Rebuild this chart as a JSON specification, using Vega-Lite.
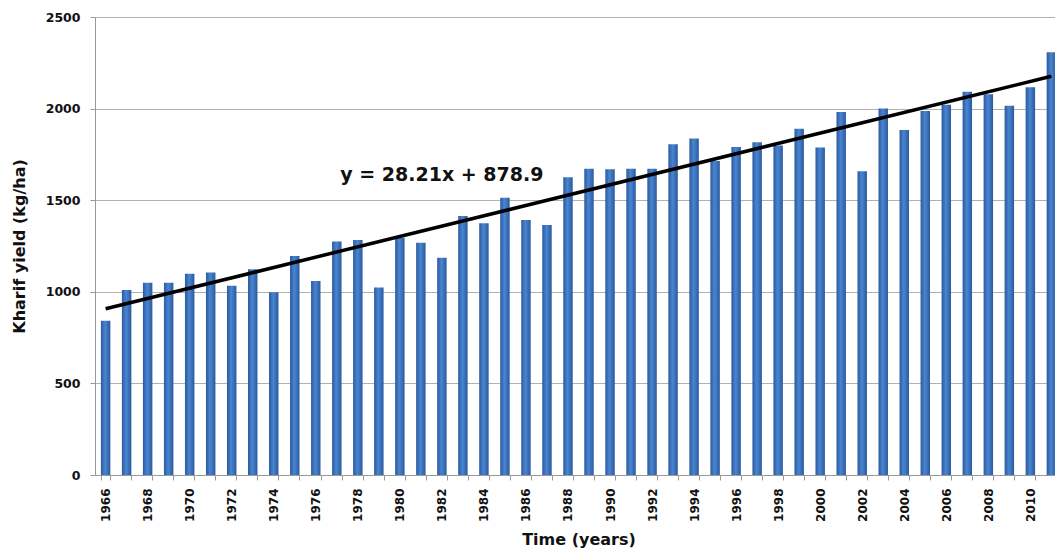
{
  "$schema": "https://vega.github.io/schema/vega-lite/v6.json",
  "autosize": {"type": "none"},
  "padding": {"left": 95, "top": 17, "right": 0, "bottom": 76},
  "width": 967,
  "height": 458,
  "background": "white",
  "config": {"view": {"stroke": null}, "font": "DejaVu Sans"},
  "datasets": {
    "yield": [
      {"year": "1966", "value": 842}, {"year": "1967", "value": 1010}, {"year": "1968", "value": 1050},
      {"year": "1969", "value": 1050}, {"year": "1970", "value": 1099}, {"year": "1971", "value": 1106},
      {"year": "1972", "value": 1033}, {"year": "1973", "value": 1123}, {"year": "1974", "value": 997},
      {"year": "1975", "value": 1195}, {"year": "1976", "value": 1059}, {"year": "1977", "value": 1274},
      {"year": "1978", "value": 1283}, {"year": "1979", "value": 1024}, {"year": "1980", "value": 1295},
      {"year": "1981", "value": 1268}, {"year": "1982", "value": 1186}, {"year": "1983", "value": 1414},
      {"year": "1984", "value": 1374}, {"year": "1985", "value": 1514}, {"year": "1986", "value": 1392},
      {"year": "1987", "value": 1365}, {"year": "1988", "value": 1625}, {"year": "1989", "value": 1672},
      {"year": "1990", "value": 1669}, {"year": "1991", "value": 1672}, {"year": "1992", "value": 1672},
      {"year": "1993", "value": 1805}, {"year": "1994", "value": 1837}, {"year": "1995", "value": 1714},
      {"year": "1996", "value": 1790}, {"year": "1997", "value": 1816}, {"year": "1998", "value": 1798},
      {"year": "1999", "value": 1890}, {"year": "2000", "value": 1787}, {"year": "2001", "value": 1981},
      {"year": "2002", "value": 1658}, {"year": "2003", "value": 2000}, {"year": "2004", "value": 1883},
      {"year": "2005", "value": 1987}, {"year": "2006", "value": 2021}, {"year": "2007", "value": 2092},
      {"year": "2008", "value": 2078}, {"year": "2009", "value": 2016}, {"year": "2010", "value": 2116},
      {"year": "2011", "value": 2307}
    ],
    "trend": [
      {"year": "1966", "value": 907.1},
      {"year": "2011", "value": 2176.6}
    ],
    "label": [
      {"year": "1982", "value": 1640, "text": "y = 28.21x + 878.9"}
    ]
  },
  "layer": [
    {
      "data": {"name": "yield"},
      "mark": {
        "type": "bar",
        "color": {
          "gradient": "linear", "x1": 0, "x2": 1, "y1": 0, "y2": 0,
          "stops": [
            {"offset": 0, "color": "#2a5a9e"},
            {"offset": 0.45, "color": "#4a85d0"},
            {"offset": 1, "color": "#2a5a9e"}
          ]
        }
      },
      "encoding": {
        "x": {
          "field": "year", "type": "ordinal",
          "scale": {"paddingInner": 0.55, "paddingOuter": 0.28},
          "axis": {
            "title": "Time (years)",
            "titleFont": "DejaVu Sans", "titleFontSize": 16, "titleFontWeight": "bold", "titleColor": "#111",
            "titlePadding": 10,
            "labelAngle": -90, "labelAlign": "right", "labelBaseline": "middle",
            "labelFont": "DejaVu Sans", "labelFontSize": 12, "labelFontWeight": "bold", "labelColor": "#111",
            "labelPadding": 8,
            "labelExpr": "parseInt(datum.value) % 2 == 0 ? datum.value : ''",
            "tickBand": "extent", "tickSize": 5, "tickColor": "#999",
            "domainColor": "#999", "grid": false
          }
        },
        "y": {
          "field": "value", "type": "quantitative",
          "scale": {"domain": [0, 2500], "nice": false},
          "axis": {
            "title": "Kharif yield (kg/ha)",
            "titleFont": "DejaVu Sans", "titleFontSize": 16, "titleFontWeight": "bold", "titleColor": "#111",
            "titlePadding": 18,
            "values": [0, 500, 1000, 1500, 2000, 2500],
            "format": "d",
            "labelFont": "DejaVu Sans", "labelFontSize": 12.5, "labelFontWeight": "bold", "labelColor": "#111",
            "labelPadding": 10,
            "tickSize": 5, "tickColor": "#999",
            "domainColor": "#999",
            "gridColor": "#b0b0b0", "gridWidth": 1
          }
        }
      }
    },
    {
      "data": {"name": "trend"},
      "mark": {"type": "line", "color": "#000", "strokeWidth": 3.5},
      "encoding": {
        "x": {"field": "year", "type": "ordinal"},
        "y": {"field": "value", "type": "quantitative"}
      }
    },
    {
      "data": {"name": "label"},
      "mark": {"type": "text", "font": "DejaVu Sans", "fontSize": 19, "fontWeight": "bold", "color": "#111", "align": "center", "baseline": "middle"},
      "encoding": {
        "x": {"field": "year", "type": "ordinal"},
        "y": {"field": "value", "type": "quantitative"},
        "text": {"field": "text"}
      }
    }
  ]
}
